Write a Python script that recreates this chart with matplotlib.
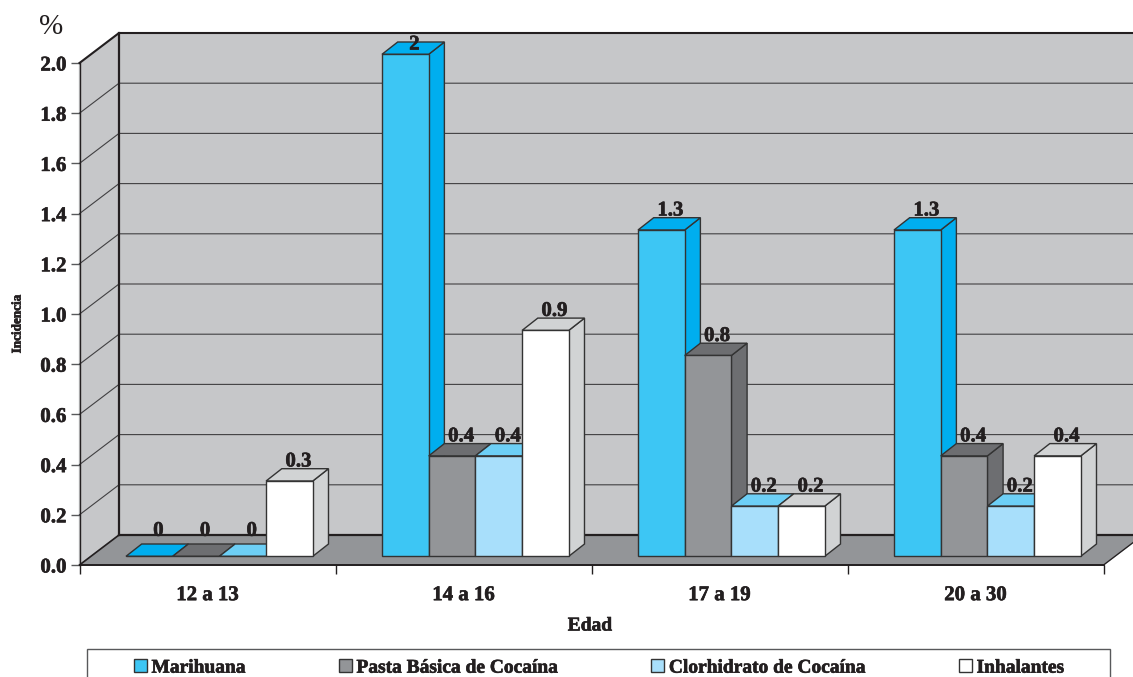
import matplotlib
matplotlib.use("Agg")
import matplotlib.pyplot as plt
import matplotlib.patheffects as pe
from matplotlib.patches import Patch, Rectangle
from matplotlib.text import Text

plt.rcParams["font.family"] = ["Liberation Serif", "DejaVu Serif"]

# Incidence by age group and substance
age_groups = ["12 a 13", "14 a 16", "17 a 19", "20 a 30"]
marihuana = [0, 2, 1.3, 1.3]
pasta_basica = [0, 0.4, 0.8, 0.4]
clorhidrato = [0, 0.4, 0.2, 0.2]
inhalantes = [0.3, 0.9, 0.2, 0.4]
y_ticks = [0.0, 0.2, 0.4, 0.6, 0.8, 1.0, 1.2, 1.4, 1.6, 1.8, 2.0]

series_names = ["Marihuana", "Pasta Básica de Cocaína", "Clorhidrato de Cocaína", "Inhalantes"]
series_values = [marihuana, pasta_basica, clorhidrato, inhalantes]
front_colors = ["#3dc6f4", "#939598", "#a8dffb", "#ffffff"]
top_colors = ["#00aeef", "#6d6e71", "#6dcff6", "#d1d3d4"]
side_colors = ["#00aeef", "#6d6e71", "#6dcff6", "#d1d3d4"]

INK = "#231f20"
EDGE = "#333333"
WALL = "#c6c7c9"
FLOOR = "#939598"

W, H = 1133, 677
fig = plt.figure(figsize=(W / 100, H / 100), dpi=100, facecolor="white")
ax = fig.add_axes([79.5 / W, (H - 565) / H, 1024 / W, 502 / H], facecolor="none")
ax.set_xlim(0, 4)
ax.set_ylim(0, 2)
for spine in ax.spines.values():
    spine.set_visible(False)

# Oblique projection: screen shift of the chart's full depth, in data units
px_x = 4 / 1024
px_y = 2 / 502
WALL_DX, WALL_DY = 39.5 * px_x, 30 * px_y
BAR_DX, BAR_DY = 15.7 * px_x, 12.3 * px_y
BASE_DX, BASE_DY = 0.1816, 8.7 * px_y
BAR_W = 46.7 * px_x
TOP = y_ticks[-1]
XMAX = len(age_groups)


def face(xs, ys, color, z, edge=None, lw=1.0):
    ax.fill(xs, ys, facecolor=color, edgecolor=edge if edge else color,
            linewidth=lw, zorder=z, clip_on=False, joinstyle="miter")


# Walls and floor
face([WALL_DX, XMAX + WALL_DX, XMAX + WALL_DX, WALL_DX],
     [WALL_DY, WALL_DY, TOP + WALL_DY, TOP + WALL_DY], WALL, 1)
face([0, WALL_DX, WALL_DX, 0], [0, WALL_DY, TOP + WALL_DY, TOP], WALL, 1)
face([0, XMAX, XMAX + WALL_DX, WALL_DX], [0, 0, WALL_DY, WALL_DY], FLOOR, 1)

# Grid lines run along the side wall and across the back wall
for t in y_ticks[1:]:
    lw = 1.5 if t == TOP else 0.8
    ax.plot([0, WALL_DX, XMAX + WALL_DX], [t, t + WALL_DY, t + WALL_DY],
            color=INK if t == TOP else "#414042", lw=lw, zorder=2, clip_on=False,
            solid_joinstyle="miter")

# Frame of the box
ax.plot([WALL_DX, WALL_DX], [WALL_DY, TOP + WALL_DY], color=INK, lw=1.6, zorder=3, clip_on=False)
ax.plot([WALL_DX, XMAX + WALL_DX], [WALL_DY, WALL_DY], color=INK, lw=1.6, zorder=3, clip_on=False)
ax.plot([0, WALL_DX], [0, WALL_DY], color=INK, lw=1.2, zorder=3, clip_on=False)
ax.plot([0, 0], [0, TOP], color=INK, lw=1.0, zorder=3, clip_on=False)
ax.plot([0, XMAX], [0, 0], color=INK, lw=1.4, zorder=3, clip_on=False)
ax.plot([XMAX, XMAX + WALL_DX], [0, WALL_DY], color=INK, lw=0.9, zorder=3, clip_on=False)

# Bars, left to right so that each one covers the side of the previous one
z = 4
for g in range(len(age_groups)):
    for s, vals in enumerate(series_values):
        v = vals[g]
        x0 = g + BASE_DX + s * BAR_W
        x1 = x0 + BAR_W
        y0 = BASE_DY
        y1 = y0 + v
        face([x1, x1 + BAR_DX, x1 + BAR_DX, x1],
             [y0, y0 + BAR_DY, y1 + BAR_DY, y1], side_colors[s], z, EDGE)
        face([x0, x1, x1 + BAR_DX, x0 + BAR_DX],
             [y1, y1, y1 + BAR_DY, y1 + BAR_DY], top_colors[s], z, EDGE)
        ax.bar(x0, v, width=BAR_W, bottom=y0, align="edge", color=front_colors[s],
               edgecolor=EDGE, linewidth=1.0, zorder=z, clip_on=False)
        z += 1

# Value labels sit above the back edge of each bar, held inside the chart's top
for g in range(len(age_groups)):
    for s, vals in enumerate(series_values):
        v = vals[g]
        lx = g + BASE_DX + (s + 0.5) * BAR_W + 9 * px_x
        gap = 19.5 if v > 0 else 25.5
        ly = min(BASE_DY + v + gap * px_y, TOP + 18.5 * px_y)
        ax.text(lx, ly, f"{v:g}", ha="center", va="center", fontsize=15, fontweight="bold",
                color=INK, zorder=100, clip_on=False)

# Axes ticks and labels
ax.set_yticks(y_ticks)
ax.set_yticklabels([f"{t:.1f}" for t in y_ticks], fontsize=15, fontweight="bold", color=INK)
ax.set_xticks(range(len(age_groups) + 1))
ax.set_xticklabels([])
ax.set_xticks([g + 0.5 for g in range(len(age_groups))], minor=True)
ax.set_xticklabels(age_groups, minor=True, fontsize=15, fontweight="bold", color=INK)
ax.tick_params(axis="y", which="major", length=6.5, width=1, color="#58595b", pad=3)
ax.tick_params(axis="x", which="major", length=6.5, width=1, color=INK)
ax.tick_params(axis="x", which="minor", length=0, pad=14.5)

fig.text(590 / W, 1 - 626 / H, "Edad", ha="center", va="center", fontsize=14,
         fontweight="bold", color=INK)
fig.text(17.5 / W, 1 - 324 / H, "Incidencia", ha="center", va="center", rotation=90,
         fontsize=9.5, fontweight="bold", color=INK)
fig.text(51 / W, 1 - 27 / H, "%", ha="center", va="center", fontsize=21, color=INK)

# Legend frame runs past the lower edge of the figure
fig.add_artist(Rectangle((86.5 / W, -20 / H), 1023.5 / W, (H - 649 + 20) / H,
                         transform=fig.transFigure, facecolor="white",
                         edgecolor="#58595b", linewidth=1.0))
handles = [Patch(facecolor=c, edgecolor=EDGE, linewidth=1.0) for c in front_colors]
fig.legend(handles, series_names, loc="center left", bbox_to_anchor=(134 / W, 1 - 668 / H),
           ncol=4, frameon=False, borderpad=0, borderaxespad=0,
           handlelength=0.65, handleheight=0.65, handletextpad=0.25, columnspacing=4.78,
           prop={"size": 14, "weight": "bold", "family": "Liberation Serif"}, labelcolor=INK)

# The heavy print weight of the bold lettering
for txt in fig.findobj(Text):
    if txt.get_fontweight() == "bold":
        txt.set_path_effects([pe.withStroke(linewidth=0.45, foreground=INK)])

fig.savefig("out.png", dpi=100, facecolor="white")
